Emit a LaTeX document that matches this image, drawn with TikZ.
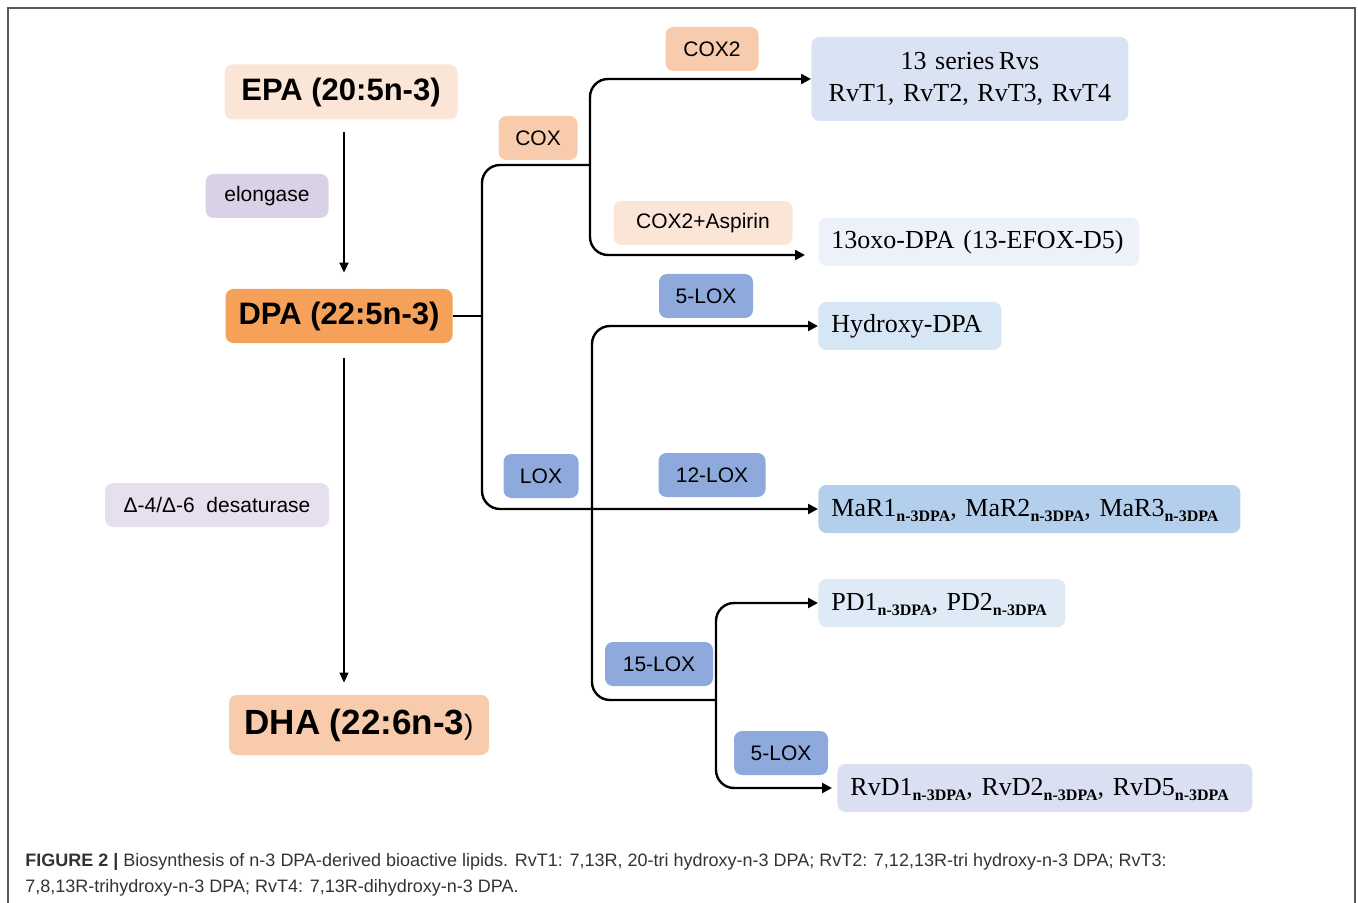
\documentclass[tikz,border=0pt]{standalone}
\usepackage{fontspec}
\setmainfont{Liberation Sans}
\newfontfamily\tnr{Liberation Serif}
\usetikzlibrary{arrows.meta,calc,positioning}

\definecolor{epafill}{HTML}{FBE5D6}
\definecolor{dpafill}{HTML}{F6A15A}
\definecolor{dhafill}{HTML}{F8CBAD}
\definecolor{coxfill}{HTML}{F8CBAD}
\definecolor{aspfill}{HTML}{FBE5D6}
\definecolor{elofill}{HTML}{D9D2E6}
\definecolor{desfill}{HTML}{E6E0EE}
\definecolor{loxfill}{HTML}{8EA9DB}
\definecolor{rvsfill}{HTML}{DAE3F3}
\definecolor{oxofill}{HTML}{EDF2FA}
\definecolor{hydfill}{HTML}{D6E6F5}
\definecolor{marfill}{HTML}{B4CFEC}
\definecolor{pdfill}{HTML}{DEEAF6}
\definecolor{rvdfill}{HTML}{DAE0F2}
\definecolor{capgray}{HTML}{333333}

\newcommand{\ndpa}{\raisebox{-0.45ex}{\bfseries\fontsize{8}{9}\selectfont n-3DPA}}

\begin{document}
\begin{tikzpicture}[x=0.5pt,y=-0.5pt,
    box/.style={rounded corners=4pt, inner sep=0pt, align=center},
    subst/.style={box, font=\bfseries\fontsize{15.5}{18}\selectfont},
    enz/.style={box, font=\fontsize{10.5}{12}\selectfont, minimum height=22pt},
    prod/.style={box, anchor=west, inner xsep=6.5pt, align=left,
        minimum height=24pt, font=\tnr\fontsize{13}{16}\selectfont},
    prodline/.style={prod, text height=9pt, text depth=2pt},
    conn/.style={line width=1.2pt, rounded corners=9pt},
    arr/.style={conn, -{Triangle[length=5pt,width=5pt]}},
    vert/.style={line width=0.8pt, -{Triangle[length=5pt,width=4.5pt]}}]
\useasboundingbox (0,0) rectangle (1358,903);
\draw[black!65, line width=0.6pt] (8,903) -- (8,8) -- (1355,8) -- (1355,903);

% fatty acids
\node[subst, fill=epafill, minimum width=116.5pt, minimum height=27.5pt] (epa) at (341,92) {EPA (20:5n-3)};
\node[subst, fill=dpafill, minimum width=113.5pt, minimum height=27pt] (dpa) at (339,316) {DPA (22:5n-3)};
\node[subst, fill=dhafill, minimum width=130pt, minimum height=30pt,
    font=\bfseries\fontsize{17.5}{20}\selectfont] (dha) at (359,725)
    {DHA (22:6n-3{\mdseries\fontsize{14}{16}\selectfont)}};

% enzymes
\node[enz, fill=elofill, minimum width=61.5pt] (elong) at (267,196) {elongase};
\node[enz, fill=desfill, minimum width=112pt] (desat) at (217,505) {Δ-4/Δ-6~ desaturase};
\node[enz, fill=coxfill, minimum width=39.5pt] (cox) at (538,138) {COX};
\node[enz, fill=coxfill, minimum width=46.5pt] (cox2) at (712,49) {COX2};
\node[enz, fill=aspfill, minimum width=89.5pt] (asp) at (703,223) {COX2+Aspirin};
\node[enz, fill=loxfill, minimum width=47pt] (loxa) at (706,296) {5-LOX};
\node[enz, fill=loxfill, minimum width=37.5pt] (lox) at (541,476) {LOX};
\node[enz, fill=loxfill, minimum width=53.5pt] (loxb) at (712,475) {12-LOX};
\node[enz, fill=loxfill, minimum width=54pt] (loxc) at (659,664) {15-LOX};
\node[enz, fill=loxfill, minimum width=47pt] (loxd) at (781,753) {5-LOX};

% products
\node[prod, fill=rvsfill, text width=145.5pt, align=center, minimum height=42pt] (rvs) at (811,79)
    {13 series\,Rvs\\RvT1, RvT2, RvT3, RvT4};
\node[prodline, fill=oxofill, text width=147.5pt] (oxo) at (818,242) {13oxo-DPA (13-EFOX-D5)};
\node[prodline, fill=hydfill, text width=78.5pt] (hyd) at (818,326) {Hydroxy-DPA};
\node[prodline, fill=marfill, text width=198pt] (mar) at (818,509) {MaR1\ndpa, MaR2\ndpa, MaR3\ndpa};
\node[prodline, fill=pdfill, text width=110.5pt] (pd) at (818,603) {PD1\ndpa, PD2\ndpa};
\node[prodline, fill=rvdfill, text width=194.5pt] (rvd) at (837,788) {RvD1\ndpa, RvD2\ndpa, RvD5\ndpa};

\coordinate (trunk) at (482,316);
\coordinate (coxsplit) at (590,165);
\coordinate (oxoend) at (805,255);
\coordinate (loxsplit) at (592,509);
\coordinate (pdsplit) at (716,700);

\draw[vert, shorten <=6pt, shorten >=8pt] ([xshift=1.5pt]epa.south) -- ([xshift=1.5pt]epa.south |- dpa.north);
\draw[vert, shorten <=7.5pt, shorten >=6pt] ([xshift=2.5pt]dpa.south) -- ([xshift=2.5pt]dpa.south |- dha.north);

\draw[conn] (dpa.east) -- (trunk);
\draw[conn] (trunk) |- (coxsplit);
\draw[arr] (trunk) |- (mar.west);
\draw[arr] (coxsplit) |- (rvs.west);
\draw[arr] (coxsplit) |- (oxoend);
\draw[arr] (loxsplit) |- (hyd.west);
\draw[conn] (loxsplit) |- (pdsplit);
\draw[arr] (pdsplit) |- (pd.west);
\draw[arr, shorten >=2.5pt] (pdsplit) |- (rvd.west);

% caption
\node[anchor=base west, inner sep=0pt, text=capgray, font=\fontsize{9}{10}\selectfont] (cap1) at (25,866)
    {\textbf{FIGURE 2 |} Biosynthesis of n-3 DPA-derived bioactive lipids. RvT1: 7,13R, 20-tri hydroxy-n-3 DPA; RvT2: 7,12,13R-tri hydroxy-n-3 DPA; RvT3:};
\node[anchor=base west, inner sep=0pt, text=capgray, font=\fontsize{9}{10}\selectfont] (cap2) at (25,892)
    {7,8,13R-trihydroxy-n-3 DPA; RvT4: 7,13R-dihydroxy-n-3 DPA.};
\end{tikzpicture}
\end{document}
